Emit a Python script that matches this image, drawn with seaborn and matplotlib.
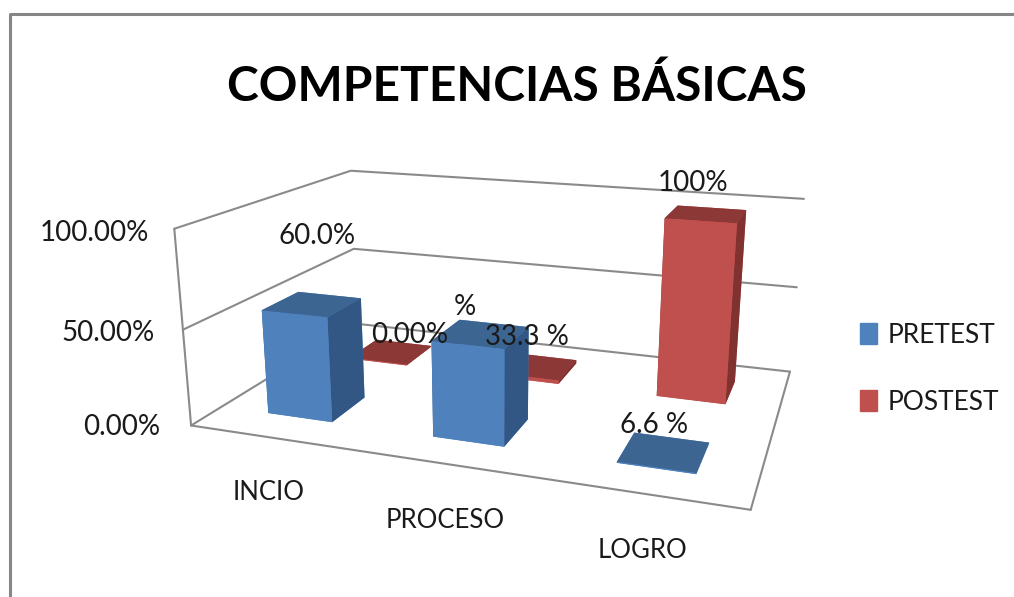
import pandas as pd
import matplotlib
matplotlib.use('Agg')
import matplotlib.pyplot as plt
from matplotlib.lines import Line2D
from matplotlib.patches import Patch
import seaborn as sns

categories = ['INCIO', 'PROCESO', 'LOGRO']
series = ['PRETEST', 'POSTEST']
pretest = [55, 49, 0.5]
postest = [0.5, 2, 97]
z_ticks = [0, 50, 100]
z_labels = ['0.00%', '50.00%', '100.00%']
data_labels = ['60.0%', '0.00%', '%', '33.3 %', '6.6 %', '100%']

W, H = 1014, 597
sns.set_theme(style='white')
plt.rcParams['font.family'] = ['Lato', 'DejaVu Sans']

df = pd.DataFrame({'cat': categories, 'PRETEST': pretest, 'POSTEST': postest})
blue, red = sns.color_palette(['#4F81BD', '#C0504D'])
# bar3d faces: bottom, top, front, back, left, right
face_colors = {
    'PRETEST': ['#4F81BD', '#3D6592', '#4F81BD', '#4F81BD', '#325784', '#325784'],
    'POSTEST': ['#C0504D', '#8C3836', '#C0504D', '#C0504D', '#7F3230', '#7F3230'],
}

def px(x, y):
    return x / W, 1 - y / H

fig = plt.figure(figsize=(W / 100, H / 100), dpi=100)
ax = fig.add_axes([0.2056, 0, 0.5888, 1], projection='3d')
ax.set_xlim(0, 3)
ax.set_ylim(0, 2)
ax.set_zlim(0, 100)
ax.view_init(elev=16.344, azim=-71.156, roll=-0.238)
ax.set_proj_type('persp', focal_length=0.313)
ax.set_box_aspect((1, 0.661, 0.364))
ax.set_axis_off()
ax.computed_zorder = False

# move the axes so the box lands where the reference has it
fig.canvas.draw()
a = ax.transData.transform([[0, 0], [0.01, 0.01]])
k = 3460.8 / ((a[1, 0] - a[0, 0]) / 0.01)
l0, b0, w0, h0 = ax.get_window_extent().bounds
ax.set_position([(511.5 - (a[0, 0] - l0) * k) / W, (290.0 - (a[0, 1] - b0) * k) / H, w0 * k / W, h0 * k / H])

# box frame
grey = '#8A8A8A'
frame = dict(color=grey, lw=1.5, zorder=1, clip_on=False)
for z in z_ticks:
    ax.plot([0, 0, 3], [0, 2, 2], [z, z, z], **frame)
ax.plot([3, 3], [2, 0], [0, 0], **frame)
ax.plot([0, 3], [0, 0], [0, 0], **frame)
ax.plot([0, 0], [0, 0], [0, 100], **frame)

# bars, back row first and left to right
order = 2
for row, name in reversed(list(enumerate(series))):
    for i, val in enumerate(df[name]):
        ax.bar3d(i + 0.3, row + 0.3, 0, 0.4, 0.4, val, color=face_colors[name], shade=False,
                 edgecolor='none', zorder=order)
        order += 1

# value labels
label_pos = [(317, 236), (410, 335), (465, 307), (527, 337), (654, 425), (693, 183)]
for txt, (x, y) in zip(data_labels, label_pos):
    fig.text(*px(x, y), txt, fontsize=20, color='#1a1a1a', ha='center', va='center', zorder=50)

for txt, (x, y) in zip(z_labels, [(122, 427), (108, 333), (94, 233)]):
    fig.text(*px(x, y), txt, fontsize=20, color='#1a1a1a', ha='center', va='center')
for txt, (x, y) in zip(categories, [(269, 492), (445, 520), (642, 550)]):
    fig.text(*px(x, y), txt, fontsize=18.5, color='#1a1a1a', ha='center', va='center')

fig.text(*px(517, 87), 'COMPETENCIAS BÁSICAS', fontsize=34.5, fontweight='bold', color='black',
         ha='center', va='center')

handles = [Patch(color=blue, label=series[0]), Patch(color=red, label=series[1])]
fig.legend(handles=handles, loc='center left', bbox_to_anchor=px(860, 369), frameon=False, fontsize=19,
           borderpad=0, borderaxespad=0, handlelength=0.65, handleheight=0.85, labelspacing=1.6,
           handletextpad=0.4, labelcolor='#1a1a1a')

# chart border, only the top and left show
fig.add_artist(Line2D([10 / W, 10 / W, 1], [0, 1 - 14 / H, 1 - 14 / H], color='#868686', lw=2.2))

fig.savefig('out.png', dpi=100)
